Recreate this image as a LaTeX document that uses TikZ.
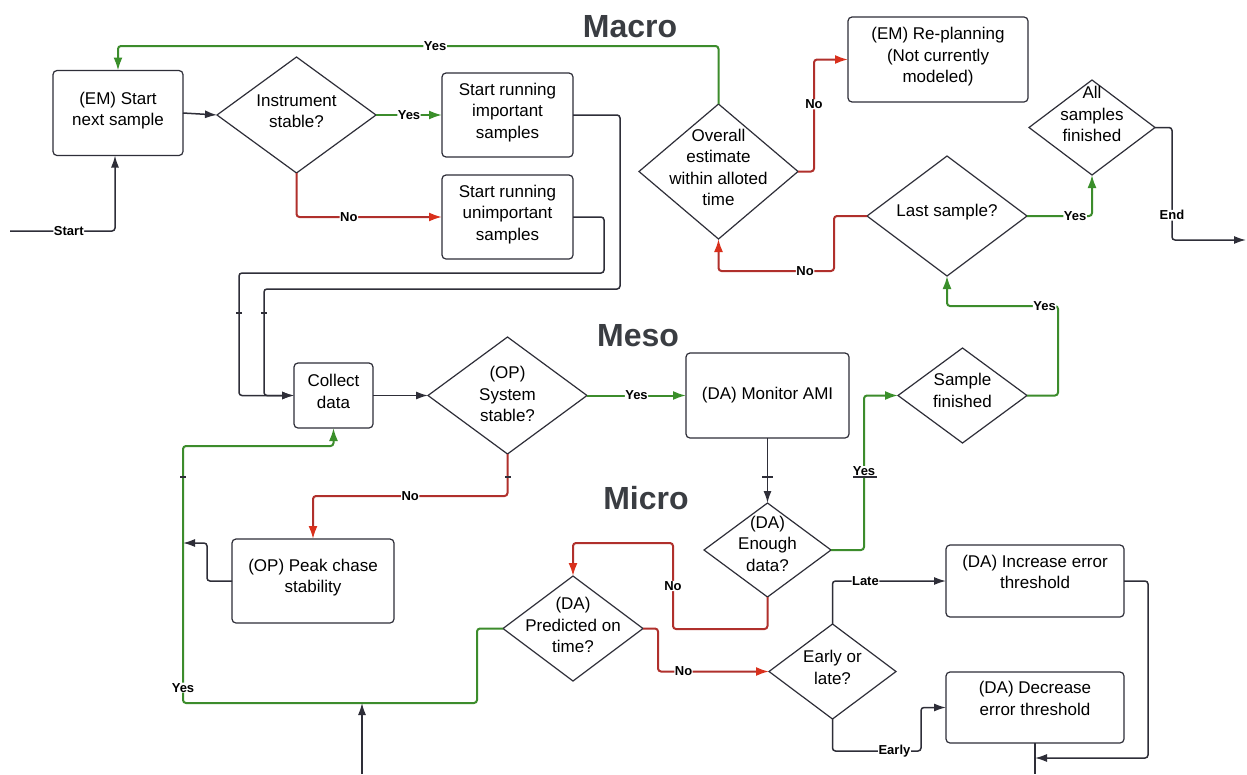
\documentclass[tikz,border=0pt]{standalone}
\usepackage{fontspec}
\setmainfont{Liberation Sans}
\usetikzlibrary{shapes.geometric,arrows.meta,calc}
\definecolor{linec}{HTML}{2E2E38}
\definecolor{grnl}{HTML}{3C8C2C}
\definecolor{grnA}{HTML}{3A8F2A}
\definecolor{redl}{HTML}{B0302C}
\definecolor{redA}{HTML}{D9301C}
\definecolor{titlec}{HTML}{3A3D42}
\newcommand{\tfont}{\fontsize{17}{21.5}\selectfont}
\newcommand{\lfont}{\bfseries\fontsize{13}{14}\selectfont}
\newcommand{\ctext}[2][-2pt]{\smash{\makebox[0pt]{\raisebox{#1}{\begin{tabular}{@{}c@{}}#2\end{tabular}}}}}
\begin{document}
\begin{tikzpicture}[x=1pt,y=-1pt,
  bx/.style={draw=linec, line width=1.2pt, rounded corners=4pt, inner sep=0pt, outer sep=0pt, font=\tfont},
  dm/.style={draw=linec, line width=1.2pt, diamond, inner sep=0pt, outer sep=0pt, font=\tfont},
  conn/.style={line width=1.5pt, rounded corners=3pt},
  cline/.style={conn, draw=linec},
  cdark/.style={conn, draw=linec, -{Latex[length=12pt,width=8pt]}},
  cgreen/.style={conn, draw=grnl, line width=2pt, -{Latex[length=13pt,width=9pt,color=grnA]}},
  cred/.style={conn, draw=redl, line width=2pt, -{Latex[length=13pt,width=9pt,color=redA]}},
  lbl/.style={fill=white, inner sep=0.5pt, font=\lfont, text=black},
  ttl/.style={font=\bfseries\fontsize{32}{34}\selectfont, text=titlec},
  tickm/.style={line width=1.1pt, draw=linec}]
\fill[white] (0,0) rectangle (1247,774);
\useasboundingbox (0,0) rectangle (1247,774);

% titles
\node[ttl] (tmacro) at (630,27) {Macro};
\node[ttl] (tmeso) at (638,336) {Meso};
\node[ttl] (tmicro) at (646,498) {Micro};

% nodes
\node[bx, minimum width=130, minimum height=85] (sns) at (118,113) {\ctext{(EM) Start\\next sample}};
\node[dm, minimum width=159, minimum height=116] (ins) at (296.5,115) {\ctext{Instrument\\stable?}};
\node[bx, minimum width=131, minimum height=84] (imp) at (507.5,115) {\ctext{Start running\\important\\samples}};
\node[bx, minimum width=131, minimum height=84] (unimp) at (507.5,217) {\ctext{Start running\\unimportant\\samples}};
\node[dm, minimum width=159, minimum height=135] (ovr) at (718.5,171.5) {\ctext{Overall\\estimate\\within alloted\\time}};
\node[bx, minimum width=180, minimum height=85] (repl) at (938,59.5) {\ctext{(EM) Re-planning\\(Not currently\\modeled)}};
\node[dm, minimum width=126, minimum height=95] (all) at (1092,127.5) {\ctext[7pt]{All\\samples\\finished}};
\node[dm, minimum width=160, minimum height=120] (last) at (947,216) {\ctext[-1pt]{Last sample?}};
\node[bx, minimum width=79, minimum height=65] (col) at (333.5,395.5) {\ctext{Collect\\data}};
\node[dm, minimum width=159, minimum height=117] (sys) at (507.5,395.5) {\ctext[-5pt]{(OP)\\System\\stable?}};
\node[bx, minimum width=163, minimum height=85] (mon) at (767.5,395.5) {\ctext[-4pt]{(DA) Monitor AMI}};
\node[dm, minimum width=129, minimum height=95] (sf) at (962.5,395.5) {\ctext[-1pt]{Sample\\finished}};
\node[dm, minimum width=127, minimum height=94] (ed) at (767.5,550) {\ctext[0pt]{(DA)\\Enough\\data?}};
\node[bx, minimum width=162, minimum height=84] (pk) at (313,581) {\ctext[-1pt]{(OP) Peak chase\\stability}};
\node[dm, minimum width=140, minimum height=105] (pot) at (573,628.5) {\ctext[-3pt]{(DA)\\Predicted on\\time?}};
\node[dm, minimum width=127, minimum height=95] (eol) at (832.5,671.5) {\ctext[-2pt]{Early or\\late?}};
\node[bx, minimum width=178, minimum height=72] (inc) at (1035,581) {\ctext[3pt]{(DA) Increase error\\threshold}};
\node[bx, minimum width=178, minimum height=71] (dec) at (1035,707.5) {\ctext[3pt]{(DA) Decrease\\error threshold}};

% free ends
\coordinate (startpt) at (10,231);
\coordinate (endpt) at (1246,240);
\coordinate (bot1) at (362,774);
\coordinate (bot2) at (1035,774);
\coordinate (jn1) at (183,543);
\coordinate (jn2) at (1035,758);
\coordinate (jn3) at (362,703);

% macro connectors
\draw[cdark] (startpt) -| node[lbl,pos=0.28]{Start} ([xshift=-3pt]sns.south);
\draw[cdark] (sns.east) -- (ins.west);
\draw[cgreen] (ins.east) -- node[lbl]{Yes} (imp.west);
\draw[cred] (ins.south) |- node[lbl,pos=0.68]{No} (unimp.west);
\draw[cdark] (imp.east) -| (620,289) -| (264,380) |- (col.west);
\draw[cdark] (unimp.east) -| (604,273) -| (239,380) |- (col.west);
\draw[cgreen] (ovr.north) |- node[lbl,pos=0.736]{Yes} ([yshift=24.5pt]sns.north) -- (sns.north);
\draw[cred] (ovr.east) -| node[lbl,pos=0.8]{No} ([xshift=-34pt]repl.west) -- (repl.west);
\draw[cred] (last.west) -| (834,271) -| node[lbl,pos=0.125]{No} (ovr.south);
\draw[cgreen] (last.east) -| node[lbl,pos=0.37]{Yes} (all.south);
\draw[cdark] (all.east) -| node[lbl,pos=0.89]{End} (1172,240) -- (endpt);

% meso connectors
\draw[cdark] (col.east) -- (sys.west);
\draw[cgreen] (sys.east) -- node[lbl]{Yes} (mon.west);
\draw[cred] (sys.south) |- node[lbl,pos=0.75]{No} ([yshift=43pt]pk.north) -- (pk.north);
\draw[cdark] (pk.west) -| (207,543) -- (jn1);
\draw[cgreen] (pot.west) -| (477,703) -- (183,703) -- node[lbl,pos=0.06]{Yes} (183,446) -| (col.south);
\draw[cdark] (bot1) -- (jn3);
\draw[cdark] (mon.south) -- (ed.north);
\draw[cgreen] (ed.east) -| node[lbl,pos=0.755]{Yes} ([xshift=-34pt]sf.west) -- (sf.west);
\draw[cgreen] (sf.east) -| (1058,306) -| node[lbl,pos=0.06]{Yes} (last.south);

% micro connectors
\draw[cred] (ed.south) |- (673,629) -- node[lbl]{No} (673,543) -| (pot.north);
\draw[cred] (pot.east) -| (658,671.5) -- node[lbl,pos=0.23]{No} (eol.west);
\draw[cdark] (eol.north) |- node[lbl,pos=0.645]{Late} (inc.west);
\draw[cdark] (eol.south) |- node[lbl,pos=0.85]{Early} (921,751) |- (dec.west);
\draw[cdark] (inc.east) -| (1148,758) -- (jn2);
\draw[cline] (dec.south) -- (bot2);

% line-hop ticks
\draw[tickm] (236,313) -- (242,313);
\draw[tickm] (261,313) -- (267,313);
\draw[tickm] (180,477) -- (186,477);
\draw[tickm] (505,477) -- (511,477);
\draw[tickm] (762,477) -- (773,477);
\draw[tickm] (853,477) -- (877,477);
\end{tikzpicture}
\end{document}
